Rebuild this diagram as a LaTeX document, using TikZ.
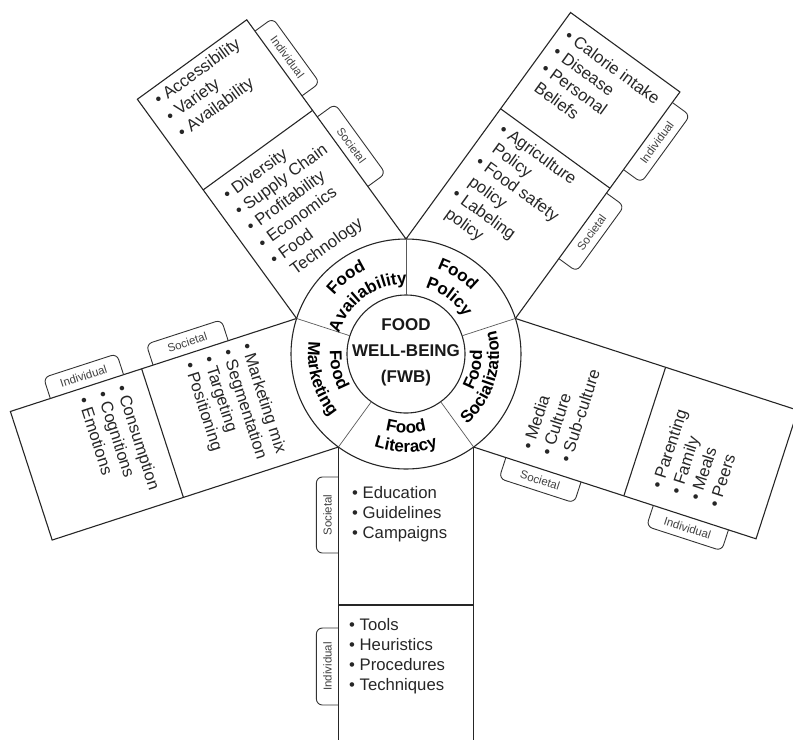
\documentclass[tikz,border=0pt]{standalone}
\usepackage{fontspec}
\setmainfont{Liberation Sans}
\usetikzlibrary{decorations.text}
\newcommand{\bl}{\textbullet\ }
\newcommand{\ind}{\hphantom{\textbullet}}
\newcommand{\ringfont}{\bfseries\fontsize{17}{20}\selectfont}
\tikzset{
  boxline/.style={line width=1.1pt, draw=black!85},
  ringline/.style={line width=0.7pt, draw=black!65},
  items/.style={anchor=north west, inner sep=0pt, align=left, font=\fontsize{16.7}{20}\selectfont, text=black!85},
  tablabel/.style={inner sep=0pt, font=\fontsize{11.5}{13}\selectfont, text=black!75},
  tabshape/.style={line width=0.9pt, draw=black!80, rounded corners=6pt},
  ringtext/.style={decorate, decoration={text along path, text align=center, text={|\ringfont|#1}}}
}
\begin{document}
\begin{tikzpicture}[x=1pt, y=1pt]
\useasboundingbox (0,0) rectangle (793,-740);
\coordinate (C) at (406,-354);

% ---------- Food Availability (126) ----------
\begin{scope}[shift={(406,-354)}, rotate=126]
  \draw[boxline] (93,67.6) -- (364,67.6) -- (364,-67.6) -- (93,-67.6);
  \draw[boxline] (252,67.6) -- (252,-67.6);
  \draw[tabshape] (158,-67.6) -- (158,-89.6) -- (244,-89.6) -- (244,-67.6);
  \draw[tabshape] (270,-67.6) -- (270,-89.6) -- (350,-89.6) -- (350,-67.6);
  \node[tablabel, rotate=-54] (avsoctab) at (201,-78.6) {Societal};
  \node[tablabel, rotate=-54] (avindtab) at (310,-78.6) {Individual};
  \node[items, rotate=36] (avind) at (358,54) {\bl Accessibility\\ \bl Variety\\ \bl Availability};
  \node[items, rotate=36] (avsoc) at (241,54) {\bl Diversity\\ \bl Supply Chain\\ \bl Profitability\\ \bl Economics\\ \bl Food\\ \ind\ Technology};
\end{scope}

% ---------- Food Policy (54) ----------
\begin{scope}[shift={(406,-354)}, rotate=54]
  \draw[boxline] (93,67.6) -- (373,67.6) -- (373,-67.6) -- (93,-67.6);
  \draw[boxline] (254,67.6) -- (254,-67.6);
  \draw[tabshape] (167,-67.6) -- (167,-89.6) -- (248,-89.6) -- (248,-67.6);
  \draw[tabshape] (277,-67.6) -- (277,-89.6) -- (360,-89.6) -- (360,-67.6);
  \node[tablabel, rotate=54] (posoctab) at (207.5,-78.6) {Societal};
  \node[tablabel, rotate=54] (poindtab) at (318.5,-78.6) {Individual};
  \node[items, rotate=-36] (poind) at (360,58) {\bl Calorie intake\\ \bl Disease\\ \bl Personal\\ \ind Beliefs};
  \node[items, rotate=-36] (posoc) at (246,56) {\bl Agriculture\\ \ind Policy\\ \bl Food safety\\ \ind policy\\ \bl Labeling\\ \ind policy};
\end{scope}

% ---------- Food Socialization (342) ----------
\begin{scope}[shift={(406,-354)}, rotate=342]
  \draw[boxline] (93,67.6) -- (390,67.6) -- (390,-67.6) -- (93,-67.6);
  \draw[boxline] (251,67.6) -- (251,-67.6);
  \draw[tabshape] (127,-67.6) -- (127,-89.6) -- (206,-89.6) -- (206,-67.6);
  \draw[tabshape] (282,-67.6) -- (282,-89.6) -- (361,-89.6) -- (361,-67.6);
  \node[tablabel, rotate=-18] (sosoctab) at (166.5,-78.6) {Societal};
  \node[tablabel, rotate=-18] (soindtab) at (321.5,-78.6) {Individual};
  \node[items, rotate=72] (sosoc) at (138,-53) {\bl Media\\ \bl Culture\\ \bl Sub-culture};
  \node[items, rotate=72] (soind) at (273,-50) {\bl Parenting\\ \bl Family\\ \bl Meals\\ \bl Peers};
\end{scope}

% ---------- Food Literacy (270) ----------
\begin{scope}[shift={(406,-354)}, rotate=270]
  \draw[boxline] (93,67.6) -- (386,67.6);
  \draw[boxline] (93,-67.6) -- (386,-67.6);
  \draw[boxline] (251,67.6) -- (251,-67.6);
  \draw[tabshape] (123,-67.6) -- (123,-89.6) -- (199,-89.6) -- (199,-67.6);
  \draw[tabshape] (274,-67.6) -- (274,-89.6) -- (351,-89.6) -- (351,-67.6);
  \node[tablabel, rotate=90] (lisoctab) at (161,-78.6) {Societal};
  \node[tablabel, rotate=90] (liindtab) at (312.5,-78.6) {Individual};
  \node[items, rotate=0] (lisoc) at (132,-54) {\bl Education\\ \bl Guidelines\\ \bl Campaigns};
  \node[items, rotate=0] (liind) at (264,-57) {\bl Tools\\ \bl Heuristics\\ \bl Procedures\\ \bl Techniques};
\end{scope}

% ---------- Food Marketing (198) ----------
\begin{scope}[shift={(406,-354)}, rotate=198]
  \draw[boxline] (93,67.6) -- (394,67.6) -- (394,-67.6) -- (93,-67.6);
  \draw[boxline] (256,67.6) -- (256,-67.6);
  \draw[tabshape] (165,-67.6) -- (165,-89.6) -- (244,-89.6) -- (244,-67.6);
  \draw[tabshape] (275,-67.6) -- (275,-89.6) -- (352,-89.6) -- (352,-67.6);
  \node[tablabel, rotate=18] (masoctab) at (204.5,-78.6) {Societal};
  \node[tablabel, rotate=18] (maindtab) at (313.5,-78.6) {Individual};
  \node[items, rotate=-72] (masoc) at (142,-59) {\bl Marketing mix\\ \bl Segmentation\\ \bl Targeting\\ \bl Positioning};
  \node[items, rotate=-72] (maind) at (274,-58) {\bl Consumption\\ \bl Cognitions\\ \bl Emotions};
\end{scope}

% ---------- central ring ----------
\begin{scope}[shift={(406,-354)}]
  \draw[boxline] (0,0) circle[radius=115];
  \draw[boxline] (0,0) circle[radius=59];
  \foreach \t in {18,90,162,234,306}
    \draw[ringline] (\t:59) -- (\t:115);
  % Availability (clockwise, tops outward)
  \path[ringtext={Food}] (178:93) arc[start angle=178, end angle=78, radius=93];
  \path[ringtext={Availability}] (176:70) arc[start angle=176, end angle=76, radius=70];
  % Policy
  \path[ringtext={Food}] (107:91) arc[start angle=107, end angle=7, radius=91];
  \path[ringtext={Policy}] (103:69) arc[start angle=103, end angle=3, radius=69];
  % Socialization (counterclockwise, tops inward)
  \path[ringtext={Food}] (-63:76) arc[start angle=-63, end angle=37, radius=76];
  \path[ringtext={Socialization}] (-67:93) arc[start angle=-67, end angle=33, radius=93];
  % Literacy
  \path[ringtext={Food}] (220:79) arc[start angle=220, end angle=320, radius=79];
  \path[ringtext={Literacy}] (220:98) arc[start angle=220, end angle=320, radius=98];
  % Marketing
  \path[ringtext={Food}] (143:76) arc[start angle=143, end angle=243, radius=76];
  \path[ringtext={Marketing}] (146:98) arc[start angle=146, end angle=246, radius=98];
\end{scope}
\node[align=center, inner sep=0pt, font=\bfseries\fontsize{17}{26}\selectfont, text=black!90] (fwb) at (406,-352) {FOOD\\WELL-BEING\\(FWB)};
\end{tikzpicture}
\end{document}
